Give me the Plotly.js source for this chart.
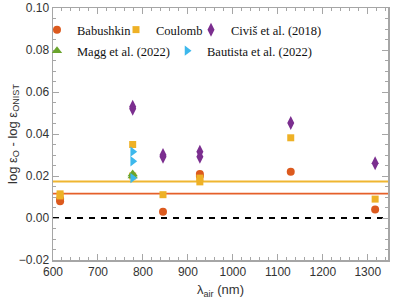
<!DOCTYPE html>
<html>
<head>
<meta charset="utf-8">
<script src="https://cdn.plot.ly/plotly-3.0.1.min.js"></script>
<style>html,body{margin:0;padding:0;background:#fff;}#chart{width:399px;height:299px;}</style>
</head>
<body>
<div id="chart"></div>
<script>
// Data (wavelength in nm, abundance difference)
const babushkinX = [615.8, 615.8, 844.6, 926.6, 926.6, 1128.7, 1316.4];
const babushkinY = [0.0090, 0.0080, 0.0030, 0.0210, 0.0200, 0.0220, 0.0040];
const coulombX = [615.8, 615.8, 777.2, 777.2, 844.6, 926.6, 926.6, 1128.7, 1316.4];
const coulombY = [0.0115, 0.0105, 0.0350, 0.0200, 0.0111, 0.0190, 0.0172, 0.0382, 0.0090];
const civisX = [777.2, 777.2, 844.6, 844.6, 926.6, 926.6, 1128.7, 1316.4];
const civisY = [0.0530, 0.0520, 0.0300, 0.0292, 0.0315, 0.0292, 0.0452, 0.0261];
const maggX = [777.2, 777.2];
const maggY = [0.0210, 0.0200];
const bautistaX = [777.2, 777.2, 777.2];
const bautistaY = [0.0316, 0.0270, 0.0190];
const coulombMean = 0.0174;
const babushkinMean = 0.0116;
const zeroLevel = 0.0;
const names = ["Babushkin", "Coulomb", "Civiš et al. (2018)", "Magg et al. (2022)", "Bautista et al. (2022)"];

const cOrange = "#dc5a1e", cYellow = "#eeb126", cPurple = "#7b2e8f", cGreen = "#6aa42c", cCyan = "#3db8ec";

const traces = [
  {x: babushkinX, y: babushkinY, name: names[0], legend: "legend", mode: "markers", type: "scatter",
   marker: {symbol: "circle", size: 8, color: cOrange}},
  {x: coulombX, y: coulombY, name: names[1], legend: "legend2", mode: "markers", type: "scatter",
   marker: {symbol: "square", size: 7, color: cYellow}},
  {x: civisX, y: civisY, name: names[2], legend: "legend3", mode: "markers", type: "scatter",
   marker: {symbol: "diamond-tall", size: 10, color: cPurple}},
  {x: maggX, y: maggY, name: names[3], legend: "legend4", mode: "markers", type: "scatter",
   marker: {symbol: "triangle-up", size: 9, color: cGreen}},
  {x: bautistaX, y: bautistaY, name: names[4], legend: "legend5", mode: "markers", type: "scatter",
   marker: {symbol: "triangle-right", size: 9, color: cCyan}}
];

const legFont = {family: "Liberation Serif, DejaVu Serif, serif", size: 12.5, color: "#111"};
function leg(px, py) {
  return {x: px / 399, y: 1 - py / 299, xref: "container", yref: "container",
          xanchor: "left", yanchor: "middle", orientation: "h", bgcolor: "rgba(0,0,0,0)",
          borderwidth: 0, font: legFont, itemwidth: 30, tracegroupgap: 0};
}

const axisCommon = {
  showgrid: false, zeroline: false, showline: true, mirror: "ticks",
  linecolor: "#a6a6a6", linewidth: 1.5, ticks: "inside", ticklen: 6, tickwidth: 1,
  tickcolor: "#a6a6a6", tickfont: {family: "Liberation Sans, Arial, sans-serif", size: 12, color: "#333"}
};

const layout = {
  width: 399, height: 299,
  margin: {l: 53, r: 11, t: 8, b: 39, autoexpand: false},
  paper_bgcolor: "#fff", plot_bgcolor: "#fff",
  showlegend: true,
  legend: leg(37, 30), legend2: leg(116, 30), legend3: leg(191, 30),
  legend4: leg(37, 51), legend5: leg(167, 51),
  xaxis: Object.assign({}, axisCommon, {
    range: [600, 1345], dtick: 100, tick0: 600, automargin: false,
    minor: {dtick: 20, ticks: "inside", ticklen: 3, tickcolor: "#a6a6a6"},
    title: {text: "λ<sub>air</sub> (nm)", font: {family: "Liberation Sans, Arial, sans-serif", size: 13, color: "#333"}}
  }),
  yaxis: Object.assign({}, axisCommon, {
    range: [-0.02, 0.10], dtick: 0.02, tick0: 0, tickformat: ".2f", automargin: false,
    minor: {dtick: 0.005, ticks: "inside", ticklen: 3, tickcolor: "#a6a6a6"},
    title: {text: "log ε<sub>O</sub> - log ε<sub>ONIST</sub>", font: {family: "Liberation Sans, Arial, sans-serif", size: 13, color: "#333"}}
  }),
  shapes: [
    {type: "line", xref: "paper", x0: 0, x1: 1, yref: "y", y0: coulombMean, y1: coulombMean, layer: "below",
     line: {color: "#efb631", width: 2}},
    {type: "line", xref: "paper", x0: 0, x1: 1, yref: "y", y0: babushkinMean, y1: babushkinMean, layer: "below",
     line: {color: "#e5602a", width: 1.6}},
    {type: "line", xref: "paper", x0: 0, x1: 1, yref: "y", y0: zeroLevel, y1: zeroLevel, layer: "below",
     line: {color: "#000", width: 2, dash: "6px,6px"}}
  ]
};

Plotly.newPlot("chart", traces, layout, {displayModeBar: false, staticPlot: true});
</script>
</body>
</html>
